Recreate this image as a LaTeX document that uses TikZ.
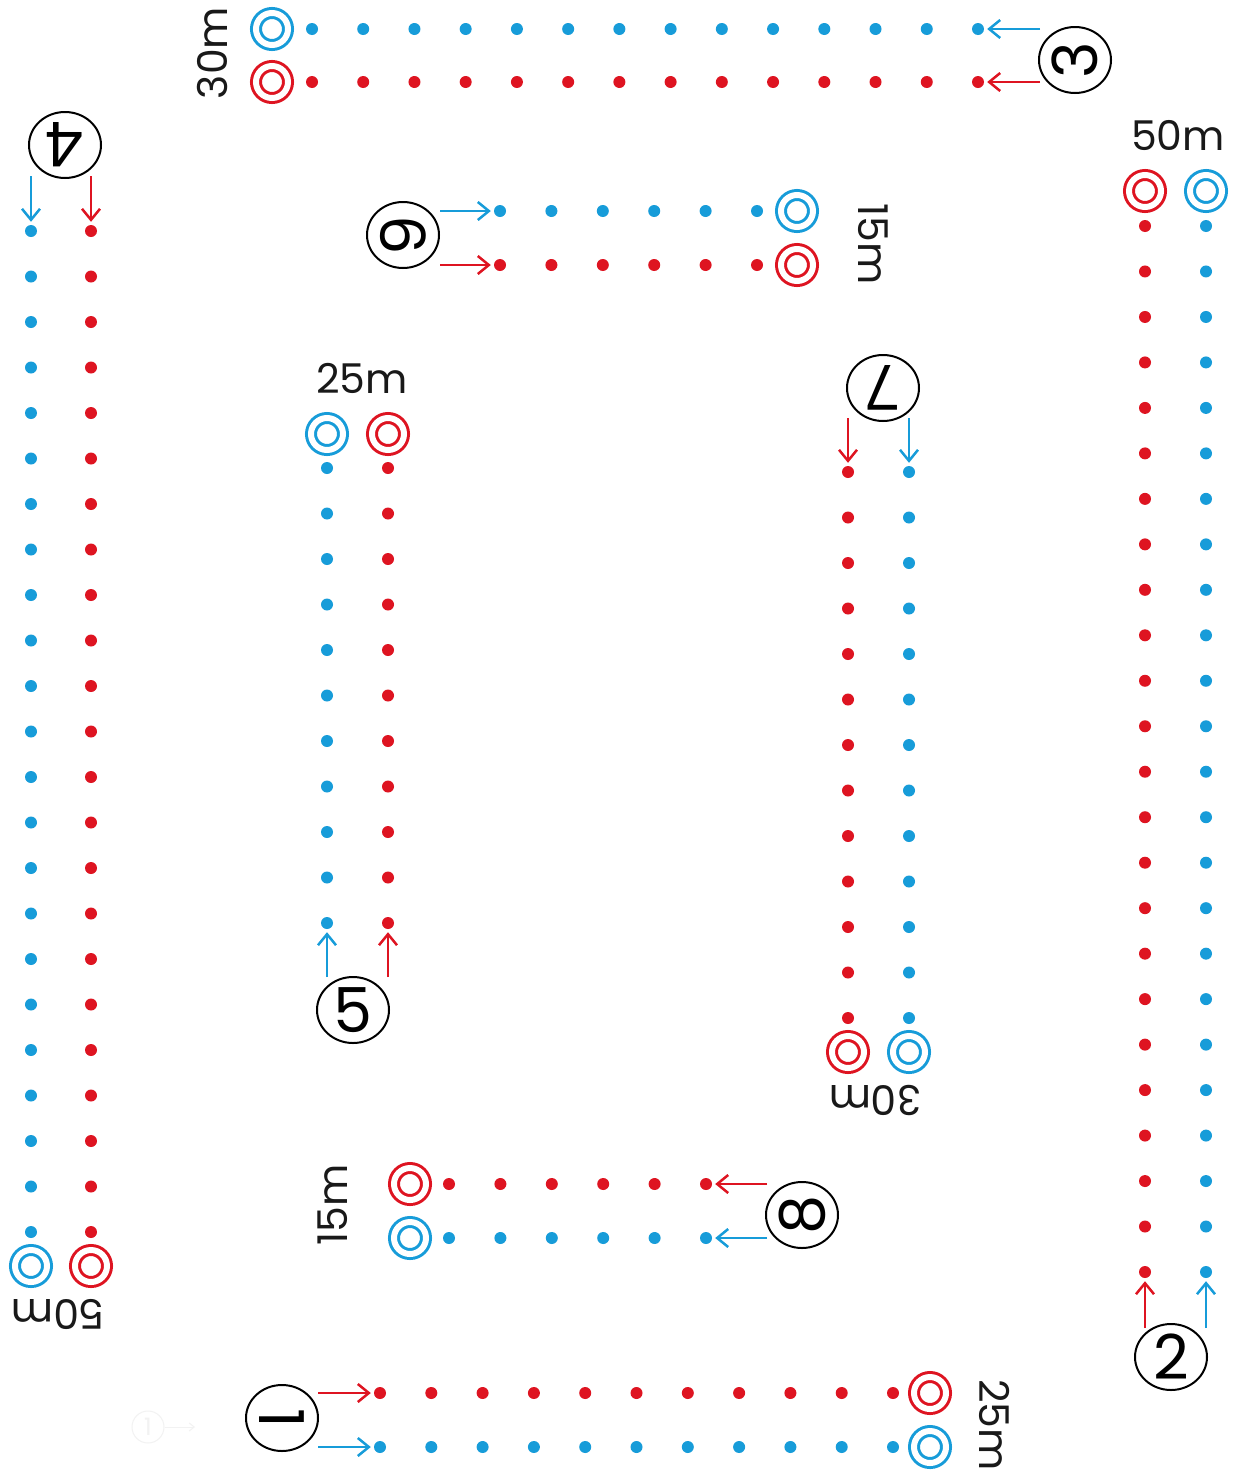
\documentclass[tikz,border=0pt]{standalone}
\usepackage{fontspec}
\setmainfont{Poppins}
\usetikzlibrary{arrows.meta,shapes.geometric}
\definecolor{blueC}{RGB}{23,156,217}
\definecolor{redC}{RGB}{222,20,33}
\tikzset{
  rdot/.style={circle,fill=redC,inner sep=0pt,minimum size=12pt},
  bdot/.style={circle,fill=blueC,inner sep=0pt,minimum size=12pt},
  tgt/.style={circle,draw=#1,line width=3pt,double=white,double distance=6pt,inner sep=0pt,minimum size=32pt},
  numc/.style={ellipse,draw=black,line width=2pt,minimum width=72pt,minimum height=66pt,inner sep=0pt,font=\fontsize{62}{64}\selectfont},
  dist/.style={font=\fontsize{41}{44}\selectfont,inner sep=0pt,text=black!90},
  arR/.style={draw=redC,line width=2.5pt,-{Straight Barb[length=11pt,width=18pt]},shorten >=3pt},
  arB/.style={draw=blueC,line width=2.5pt,-{Straight Barb[length=11pt,width=18pt]},shorten >=3pt},
}
\begin{document}
\begin{tikzpicture}[x=1pt,y=-1pt]
\useasboundingbox[fill=white] (0,0) rectangle (1237,1470);

% ---------- Lane 1 (bottom) ----------
\foreach \i in {0,...,10} {
  \node[rdot] (Ar\i) at ({380+\i*51.3},1393) {};
  \node[bdot] (Ab\i) at ({380+\i*51.3},1447) {};
}
\node[tgt=redC] (At r) at (930,1393) {};
\node[tgt=blueC] (At b) at (930,1447) {};
\node[numc] (N1) at (282,1418) {\rotatebox{-90}{1}};
\coordinate (A sr) at (318,1393);
\coordinate (A sb) at (318,1447);
\draw[arR] (A sr) -- (Ar0);
\draw[arB] (A sb) -- (Ab0);
\node[dist,rotate=-90] (L1) at (995,1425) {25m};

% ---------- Lane 2 (right) ----------
\foreach \i in {0,...,23} {
  \node[rdot] (Br\i) at (1145,{226+\i*45.478}) {};
  \node[bdot] (Bb\i) at (1206,{226+\i*45.478}) {};
}
\node[tgt=redC] (Bt r) at (1145,191) {};
\node[tgt=blueC] (Bt b) at (1206,191) {};
\node[numc] (N2) at (1171,1357) {2};
\coordinate (B sr) at (1145,1328);
\coordinate (B sb) at (1206,1328);
\draw[arR] (B sr) -- (Br23);
\draw[arB] (B sb) -- (Bb23);
\node[dist] (L2) at (1178,135) {50m};

% ---------- Lane 3 (top) ----------
\foreach \i in {0,...,13} {
  \node[bdot] (Cb\i) at ({312+\i*51.23},29) {};
  \node[rdot] (Cr\i) at ({312+\i*51.23},82) {};
}
\node[tgt=blueC] (Ct b) at (272,29) {};
\node[tgt=redC] (Ct r) at (272,82) {};
\node[numc] (N3) at (1075,60) {\rotatebox{90}{3}};
\coordinate (C sb) at (1040,29);
\coordinate (C sr) at (1040,82);
\draw[arB] (C sb) -- (Cb13);
\draw[arR] (C sr) -- (Cr13);
\node[dist,rotate=90] (L3) at (212,53) {30m};

% ---------- Lane 4 (left) ----------
\foreach \i in {0,...,22} {
  \node[bdot] (Db\i) at (31,{231+\i*45.5}) {};
  \node[rdot] (Dr\i) at (91,{231+\i*45.5}) {};
}
\node[tgt=blueC] (Dt b) at (31,1266) {};
\node[tgt=redC] (Dt r) at (91,1266) {};
\node[numc] (N4) at (65,145) {\rotatebox{180}{4}};
\coordinate (D sb) at (31,176);
\coordinate (D sr) at (91,176);
\draw[arB] (D sb) -- (Db0);
\draw[arR] (D sr) -- (Dr0);
\node[dist,rotate=180] (L4) at (58,1314) {50m};

% ---------- Lane 5 ----------
\foreach \i in {0,...,10} {
  \node[bdot] (Eb\i) at (327,{468+\i*45.5}) {};
  \node[rdot] (Er\i) at (388,{468+\i*45.5}) {};
}
\node[tgt=blueC] (Et b) at (327,434) {};
\node[tgt=redC] (Et r) at (388,434) {};
\node[numc] (N5) at (353,1010) {5};
\coordinate (E sb) at (327,977);
\coordinate (E sr) at (388,977);
\draw[arB] (E sb) -- (Eb10);
\draw[arR] (E sr) -- (Er10);
\node[dist] (L5) at (362,378) {25m};

% ---------- Lane 6 ----------
\foreach \i in {0,...,5} {
  \node[bdot] (Fb\i) at ({500+\i*51.4},211) {};
  \node[rdot] (Fr\i) at ({500+\i*51.4},265) {};
}
\node[tgt=blueC] (Ft b) at (797,211) {};
\node[tgt=redC] (Ft r) at (797,265) {};
\node[numc] (N6) at (403,235) {\rotatebox{-90}{6}};
\coordinate (F sb) at (440,211);
\coordinate (F sr) at (440,265);
\draw[arB] (F sb) -- (Fb0);
\draw[arR] (F sr) -- (Fr0);
\node[dist,rotate=-90] (L6) at (873,244) {15m};

% ---------- Lane 7 ----------
\foreach \i in {0,...,12} {
  \node[rdot] (Gr\i) at (848,{472+\i*45.5}) {};
  \node[bdot] (Gb\i) at (909,{472+\i*45.5}) {};
}
\node[tgt=redC] (Gt r) at (848,1052) {};
\node[tgt=blueC] (Gt b) at (909,1052) {};
\node[numc] (N7) at (883,388) {\rotatebox{180}{7}};
\coordinate (G sr) at (848,418);
\coordinate (G sb) at (909,418);
\draw[arR] (G sr) -- (Gr0);
\draw[arB] (G sb) -- (Gb0);
\node[dist,rotate=180] (L7) at (875,1100) {30m};

% ---------- Lane 8 ----------
\foreach \i in {0,...,5} {
  \node[rdot] (Hr\i) at ({449+\i*51.4},1184) {};
  \node[bdot] (Hb\i) at ({449+\i*51.4},1238) {};
}
\node[tgt=redC] (Ht r) at (410,1184) {};
\node[tgt=blueC] (Ht b) at (410,1238) {};
\node[numc] (N8) at (802,1215) {\rotatebox{90}{8}};
\coordinate (H sr) at (767,1184);
\coordinate (H sb) at (767,1238);
\draw[arR] (H sr) -- (Hr5);
\draw[arB] (H sb) -- (Hb5);
\node[dist,rotate=90] (L8) at (333,1205) {15m};

% ---------- faint watermark ----------
\node[circle,draw=black!5,line width=1pt,minimum size=32pt,inner sep=0pt,text=black!5,font=\fontsize{24}{26}\selectfont] (W) at (148,1427) {1};
\coordinate (W e) at (195,1427);
\draw[draw=black!5,line width=1pt,-{Straight Barb[length=5pt,width=8pt]}] (W) -- (W e);
\end{tikzpicture}
\end{document}
